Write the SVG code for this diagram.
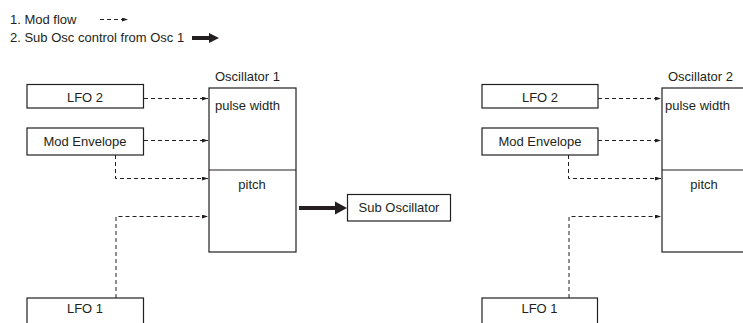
<svg xmlns="http://www.w3.org/2000/svg" width="743" height="323" viewBox="0 0 743 323">
<defs>
<style>
text{font-family:"Liberation Sans",Arial,sans-serif;font-size:13px;fill:#231f20}
.c{text-anchor:middle}
.box{fill:#fff;stroke:#231f20;stroke-width:1.2}
.dash{fill:none;stroke:#231f20;stroke-width:1;stroke-dasharray:4,3;marker-end:url(#ah)}
.thick{fill:#231f20;stroke:none}
</style>
<marker id="ah" viewBox="0 0 6 4" refX="6" refY="2" markerWidth="6" markerHeight="4" markerUnits="userSpaceOnUse" orient="auto">
<path d="M0,0 L6,2 L0,4 Z" fill="#231f20"/>
</marker>
</defs>
<rect width="743" height="323" fill="#fff"/>
<g id="legend">
<text x="10" y="24">1. Mod flow</text>
<text x="10" y="42">2. Sub Osc control from Osc 1</text>
<line x1="100" y1="19.5" x2="128" y2="19.5" class="dash"/>
<path class="thick" d="M192,36 L209,36 L209,33 L219,38 L209,43 L209,40 L192,40 Z"/>
</g>
<g id="lfo2-a"><rect class="box" x="27" y="84.5" width="116.5" height="23.5"/><text class="c" x="85" y="102">LFO 2</text></g>
<g id="modenv-a"><rect class="box" x="27" y="128" width="116.5" height="27"/><text class="c" x="85" y="146">Mod Envelope</text></g>
<g id="osc1">
<text x="215" y="81">Oscillator 1</text>
<rect class="box" x="209" y="88" width="87" height="164"/>
<line x1="209" y1="170" x2="296" y2="170" stroke="#231f20" stroke-width="1.2"/>
<text x="215" y="110">pulse width</text>
<text class="c" x="252" y="189">pitch</text>
</g>
<g id="subosc"><rect class="box" x="347.5" y="194.5" width="103" height="26.5"/><text class="c" x="399" y="212">Sub Oscillator</text></g>
<g id="lfo1-a"><rect class="box" x="27" y="298" width="116.5" height="30"/><text class="c" x="85" y="313">LFO 1</text></g>
<g id="lfo2-b"><rect class="box" x="482" y="84.5" width="116" height="23.5"/><text class="c" x="540" y="102">LFO 2</text></g>
<g id="modenv-b"><rect class="box" x="482" y="128" width="116" height="27"/><text class="c" x="540" y="146">Mod Envelope</text></g>
<g id="osc2">
<text x="668" y="81">Oscillator 2</text>
<rect class="box" x="662" y="88" width="87" height="164"/>
<line x1="662" y1="170" x2="749" y2="170" stroke="#231f20" stroke-width="1.2"/>
<text x="665" y="110">pulse width</text>
<text class="c" x="704" y="189">pitch</text>
</g>
<g id="lfo1-b"><rect class="box" x="482" y="298" width="115.5" height="30"/><text class="c" x="539.5" y="313">LFO 1</text></g>
<g id="connectors">
<line class="dash" x1="144" y1="98.5" x2="208" y2="98.5"/>
<line class="dash" x1="144" y1="140.5" x2="208" y2="140.5"/>
<polyline class="dash" points="115.5,155 115.5,178.5 208,178.5"/>
<polyline class="dash" points="116,298 116,216.5 208,216.5"/>
<path class="thick" d="M299,206 L335,206 L335,201.5 L347,208 L335,214.5 L335,210 L299,210 Z"/>
<line class="dash" x1="598" y1="98.5" x2="661" y2="98.5"/>
<line class="dash" x1="598" y1="140.5" x2="661" y2="140.5"/>
<polyline class="dash" points="568.5,155 568.5,178.5 661,178.5"/>
<polyline class="dash" points="569,298 569,216.5 661,216.5"/>
</g>
</svg>
